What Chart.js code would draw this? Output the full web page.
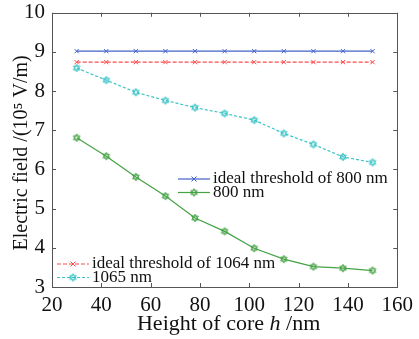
<!DOCTYPE html>
<html lang="en">
  <head>
    <meta charset="UTF-8" />
    <title>Electric field vs core height</title>
    <script src="https://cdn.jsdelivr.net/npm/chart.js@4.4.1/dist/chart.umd.min.js"></script>
    <style>
      html, body { margin: 0; padding: 0; background: #fff; }
      #wrap { width: 419px; height: 339px; }
    </style>
  </head>
  <body>
    <div id="wrap"><canvas id="myChart" width="419" height="339"></canvas></div>
    <script>
      // data
      const heights = [30, 42, 54, 66, 78, 90, 102, 114, 126, 138, 150];
      const ideal800 = [9.02, 9.02, 9.02, 9.02, 9.02, 9.02, 9.02, 9.02, 9.02, 9.02, 9.02];
      const field800 = [6.81, 6.34, 5.81, 5.32, 4.76, 4.42, 3.99, 3.71, 3.52, 3.48, 3.42];
      const ideal1064 = [8.74, 8.74, 8.74, 8.74, 8.74, 8.74, 8.74, 8.74, 8.74, 8.74, 8.74];
      const field1065 = [8.59, 8.28, 7.97, 7.76, 7.58, 7.43, 7.26, 6.92, 6.64, 6.32, 6.18];
      const xTicks = [20, 40, 60, 80, 100, 120, 140, 160];
      const yTicks = [3, 4, 5, 6, 7, 8, 9, 10];

      const BLUE = '#4362c9', GREEN = '#45a245', RED = '#ff4a4a', CYAN = '#3cc3c6';
      const FONT = '"Liberation Serif", "Times New Roman", serif';

      function hexagram(color) {
        const c = document.createElement('canvas');
        c.width = 10; c.height = 10;
        const g = c.getContext('2d');
        g.strokeStyle = color; g.lineWidth = 1;
        const r = 3.8, cx = 5, cy = 5;
        for (let k = 0; k < 2; k++) {
          g.beginPath();
          for (let i = 0; i < 3; i++) {
            const a = -Math.PI / 2 + k * Math.PI + i * 2 * Math.PI / 3;
            const px = cx + r * Math.cos(a), py = cy + r * Math.sin(a);
            if (i === 0) g.moveTo(px, py); else g.lineTo(px, py);
          }
          g.closePath();
          g.stroke();
        }
        return c;
      }
      const hexGreen = hexagram(GREEN), hexCyan = hexagram(CYAN);

      function pts(ys) { return heights.map((h, i) => ({ x: h, y: ys[i] })); }

      const datasets = [
        { label: 'ideal threshold of 800 nm', data: pts(ideal800), borderColor: BLUE, pointStyle: 'crossRot', pointRadius: 3, borderDash: [] },
        { label: '800 nm', data: pts(field800), borderColor: GREEN, pointStyle: hexGreen, pointRadius: 4, borderDash: [] },
        { label: 'ideal threshold of 1064 nm', data: pts(ideal1064), borderColor: RED, pointStyle: 'crossRot', pointRadius: 3, borderDash: [4, 2] },
        { label: '1065 nm', data: pts(field1065), borderColor: CYAN, pointStyle: hexCyan, pointRadius: 4, borderDash: [3, 2] }
      ].map(d => Object.assign(d, {
        borderWidth: 1.2, pointBorderColor: d.borderColor, pointBackgroundColor: 'rgba(0,0,0,0)',
        pointBorderWidth: 1, fill: false, tension: 0
      }));

      // frame, inward ticks, axis titles and the two legends
      const decor = {
        id: 'decor',
        afterDraw(chart) {
          const ctx = chart.ctx, a = chart.chartArea;
          const xs = chart.scales.x, ys = chart.scales.y;
          ctx.save();
          ctx.strokeStyle = '#555'; ctx.lineWidth = 1;
          ctx.strokeRect(Math.round(a.left) + 0.5, Math.round(a.top) + 0.5,
            Math.round(a.right - a.left), Math.round(a.bottom - a.top));
          ctx.beginPath();
          xTicks.forEach(v => {
            const px = Math.round(xs.getPixelForValue(v)) + 0.5;
            ctx.moveTo(px, a.bottom); ctx.lineTo(px, a.bottom - 4);
            ctx.moveTo(px, a.top); ctx.lineTo(px, a.top + 4);
          });
          yTicks.forEach(v => {
            const py = Math.round(ys.getPixelForValue(v)) + 0.5;
            ctx.moveTo(a.left, py); ctx.lineTo(a.left + 4, py);
            ctx.moveTo(a.right, py); ctx.lineTo(a.right - 4, py);
          });
          ctx.stroke();

          // axis titles (x title has an italic h)
          ctx.fillStyle = '#111';
          ctx.textBaseline = 'alphabetic';
          const parts = [['Height of core ', ''], ['h', 'italic '], [' /nm', '']];
          let total = 0;
          parts.forEach(p => { ctx.font = p[1] + '22px ' + FONT; total += ctx.measureText(p[0]).width; });
          let tx = (a.left + a.right) / 2 + 4 - total / 2;
          ctx.textAlign = 'left';
          parts.forEach(p => {
            ctx.font = p[1] + '22px ' + FONT;
            ctx.fillText(p[0], tx, 330);
            tx += ctx.measureText(p[0]).width;
          });
          ctx.save();
          ctx.translate(27, (a.top + a.bottom) / 2 + 3);
          ctx.rotate(-Math.PI / 2);
          ctx.textAlign = 'center';
          ctx.font = '20px ' + FONT;
          ctx.fillText('Electric field /(10⁵ V/m)', 0, 0);
          ctx.restore();

          const groups = [
            { x: 178, y: 179, items: [0, 1] },
            { x: 57, y: 264, items: [2, 3] }
          ];
          ctx.font = '17px ' + FONT;
          ctx.textAlign = 'left';
          ctx.textBaseline = 'middle';
          groups.forEach(gr => {
            gr.items.forEach((di, r) => {
              const d = chart.data.datasets[di];
              const y = gr.y + r * 13.5;
              ctx.strokeStyle = d.borderColor; ctx.lineWidth = 1.2;
              ctx.setLineDash(d.borderDash);
              ctx.beginPath(); ctx.moveTo(gr.x, y); ctx.lineTo(gr.x + 32, y); ctx.stroke();
              ctx.setLineDash([]);
              const mx = gr.x + 16;
              if (d.pointStyle === 'crossRot') {
                ctx.lineWidth = 1;
                ctx.beginPath();
                ctx.moveTo(mx - 2.5, y - 2.5); ctx.lineTo(mx + 2.5, y + 2.5);
                ctx.moveTo(mx - 2.5, y + 2.5); ctx.lineTo(mx + 2.5, y - 2.5);
                ctx.stroke();
              } else {
                ctx.drawImage(d.pointStyle, mx - 5, y - 5);
              }
              ctx.fillText(d.label, gr.x + 35, y);
            });
          });
          ctx.restore();
        }
      };

      new Chart(document.getElementById('myChart').getContext('2d'), {
        type: 'line',
        data: { datasets: datasets },
        plugins: [decor],
        options: {
          responsive: false,
          animation: false,
          layout: { padding: { left: 0, right: 19, top: 8, bottom: 0 } },
          plugins: { legend: { display: false }, tooltip: { enabled: false } },
          scales: {
            x: {
              type: 'linear', min: 20, max: 160,
              afterBuildTicks: s => { s.ticks = xTicks.map(v => ({ value: v })); },
              afterFit: s => { s.height = 52; },
              grid: { display: false, drawTicks: false },
              border: { display: false },
              ticks: { color: '#111', padding: 6, maxRotation: 0, font: { family: FONT, size: 21 } },
              title: { display: false }
            },
            y: {
              type: 'linear', min: 3, max: 10,
              afterBuildTicks: s => { s.ticks = yTicks.map(v => ({ value: v })); },
              afterFit: s => { s.width = 52; },
              grid: { display: false, drawTicks: false },
              border: { display: false },
              ticks: { color: '#111', padding: 7, font: { family: FONT, size: 21, lineHeight: 0.55 } },
              title: { display: false }
            }
          }
        }
      });
    </script>
  </body>
</html>
